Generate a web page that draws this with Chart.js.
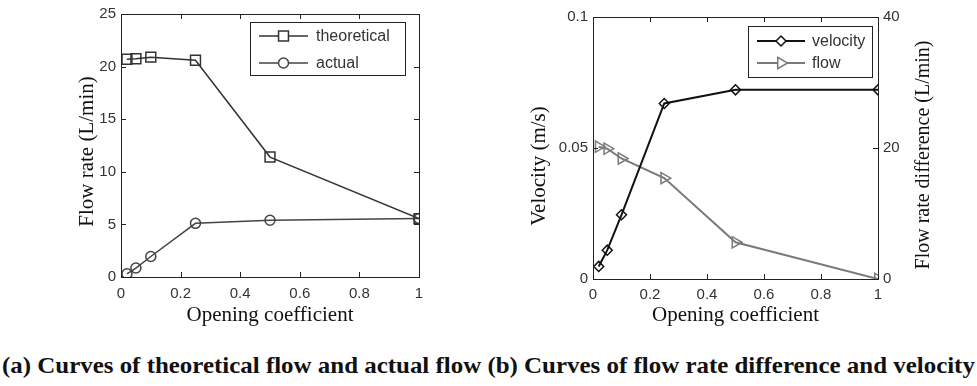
<!DOCTYPE html>
<html>
<head>
<meta charset="utf-8">
<script src="https://cdn.jsdelivr.net/npm/chart.js@4.4.1/dist/chart.umd.min.js"></script>
<style>
  body { margin: 0; background: #fff; width: 977px; height: 386px; overflow: hidden; position: relative; }
  .box { position: absolute; top: 0; }
  #caption {
    position: absolute; left: 2px; top: 353px; white-space: nowrap;
    font: bold 23px "Liberation Serif", "Times New Roman", serif; color: #111;
    transform-origin: 0 0;
  }
</style>
</head>
<body>
<div class="box" style="left:0;width:440px;height:332px"><canvas id="chartA"></canvas></div>
<div class="box" style="left:490px;width:487px;height:332px"><canvas id="chartB"></canvas></div>
<div id="caption">(a) Curves of theoretical flow and actual flow (b) Curves of flow rate difference and velocity</div>
<script>
// data
const openingCoeff = [0.02, 0.05, 0.1, 0.25, 0.5, 1];
const theoreticalFlow = [20.7, 20.75, 20.9, 20.6, 11.4, 5.55];
const actualFlow = [0.3, 0.85, 1.95, 5.1, 5.4, 5.55];
const velocity = [0.0048, 0.011, 0.0245, 0.067, 0.0722, 0.0722];
const flowDiff = [20.2, 19.9, 18.4, 15.4, 5.6, 0];

const xTicks = [0, 0.2, 0.4, 0.6, 0.8, 1];

const tickFont = { family: '"Liberation Sans", Arial, sans-serif', size: 15 };
const titleFont = { family: '"Liberation Serif", "Times New Roman", serif', size: 21 };
const fmt = v => String(+(+v).toFixed(3));

function pts(xs, ys) {
  return xs.map((x, i) => ({ x: x, y: ys[i] }));
}

// MATLAB style box with inward ticks
const framePlugin = {
  id: 'frame',
  afterDatasetsDraw(chart) {
    const { ctx, chartArea: a, scales } = chart;
    const len = 5;
    ctx.save();
    ctx.strokeStyle = '#222';
    ctx.lineWidth = 1;
    ctx.strokeRect(Math.round(a.left) + 0.5, Math.round(a.top) + 0.5, Math.round(a.width), Math.round(a.height));
    ctx.beginPath();
    scales.x.ticks.forEach(t => {
      const px = Math.round(scales.x.getPixelForValue(t.value)) + 0.5;
      ctx.moveTo(px, a.bottom); ctx.lineTo(px, a.bottom - len);
      ctx.moveTo(px, a.top); ctx.lineTo(px, a.top + len);
    });
    scales.y.ticks.forEach(t => {
      const py = Math.round(scales.y.getPixelForValue(t.value)) + 0.5;
      ctx.moveTo(a.left, py); ctx.lineTo(a.left + len, py);
      if (!scales.y1) { ctx.moveTo(a.right, py); ctx.lineTo(a.right - len, py); }
    });
    if (scales.y1) {
      scales.y1.ticks.forEach(t => {
        const py = Math.round(scales.y1.getPixelForValue(t.value)) + 0.5;
        ctx.moveTo(a.right, py); ctx.lineTo(a.right - len, py);
      });
    }
    ctx.stroke();
    ctx.restore();
  }
};

// vertical axis titles, all reading bottom-to-top like MATLAB
const yTitles = {
  id: 'yTitles',
  afterDraw(chart, args, o) {
    const { ctx, chartArea: a } = chart;
    ctx.save();
    ctx.fillStyle = '#111';
    ctx.textAlign = 'center';
    ctx.textBaseline = 'middle';
    (o.items || []).forEach(it => {
      const s = chart.scales[it.axis];
      const half = it.size * 1.2 / 2 + 4;
      const x = s.position === 'left' ? s.left + half : s.right - half;
      const y = (a.top + a.bottom) / 2 + it.dy;
      ctx.font = it.size + 'px "Liberation Serif", "Times New Roman", serif';
      ctx.save();
      ctx.translate(x, y);
      ctx.rotate(-Math.PI / 2);
      ctx.fillText(it.text, 0, 0);
      ctx.restore();
    });
    ctx.restore();
  }
};

// boxed legend inside the plot, line + marker + label
const boxLegend = {
  id: 'boxLegend',
  afterDraw(chart, args, o) {
    const { ctx, chartArea: a } = chart;
    const x = a.right - o.right - o.width;
    const y = a.top + o.top;
    ctx.save();
    ctx.fillStyle = '#fff';
    ctx.fillRect(x, y, o.width, o.height);
    ctx.strokeStyle = '#222';
    ctx.lineWidth = 1;
    ctx.strokeRect(Math.round(x) + 0.5, Math.round(y) + 0.5, o.width, o.height);
    chart.data.datasets.forEach((ds, i) => {
      const cy = y + o.rows[i];
      ctx.strokeStyle = ds.borderColor;
      ctx.lineWidth = ds.borderWidth;
      ctx.beginPath();
      ctx.moveTo(x + o.lineFrom, cy);
      ctx.lineTo(x + o.lineTo, cy);
      ctx.stroke();
      ctx.fillStyle = '#fff';
      ctx.strokeStyle = ds.pointBorderColor;
      ctx.lineWidth = ds.pointBorderWidth;
      Chart.helpers.drawPoint(ctx, {
        pointStyle: ds.pointStyle, rotation: ds.pointRotation || 0,
        radius: ds.pointRadius, borderWidth: ds.pointBorderWidth
      }, x + (o.lineFrom + o.lineTo) / 2, cy);
      ctx.fillStyle = '#333';
      ctx.font = '16px "Liberation Sans", Arial, sans-serif';
      ctx.textBaseline = 'middle';
      ctx.fillText(ds.label, x + o.textX, cy + 1);
    });
    ctx.restore();
  }
};

function xScale(pad, h) {
  return {
    type: 'linear', min: 0, max: 1,
    afterBuildTicks: s => { s.ticks = xTicks.map(v => ({ value: v })); },
    grid: { display: false, drawTicks: false }, border: { display: false },
    ticks: { font: tickFont, color: '#333', padding: pad, maxRotation: 0, callback: fmt },
    title: { display: true, text: 'Opening coefficient', font: titleFont, color: '#111' },
    afterFit: s => { s.height = h; }
  };
}

function yScale(pos, min, max, step, w) {
  return {
    type: 'linear', position: pos, min: min, max: max,
    grid: { display: false, drawTicks: false }, border: { display: false },
    ticks: { stepSize: step, font: tickFont, color: '#333', padding: 5, callback: fmt },
    afterFit: s => { s.width = w; }
  };
}

function series(label, data, color, width, style, r, axis, rot) {
  return {
    label: label, data: data, yAxisID: axis || 'y',
    borderColor: color, borderWidth: width,
    pointStyle: style, pointRadius: r, pointRotation: rot || 0,
    pointBackgroundColor: 'rgba(255,255,255,0)', pointBorderColor: color, pointBorderWidth: 1.5,
    pointHoverRadius: r, tension: 0, fill: false
  };
}

new Chart(document.getElementById('chartA'), {
  type: 'line',
  data: {
    datasets: [
      series('theoretical', pts(openingCoeff, theoreticalFlow), '#333', 1.5, 'rect', 7),
      series('actual', pts(openingCoeff, actualFlow), '#444', 1.5, 'circle', 5)
    ]
  },
  options: {
    responsive: true, maintainAspectRatio: false, animation: false,
    layout: { padding: { left: 71, top: 12, right: 21, bottom: 0 } },
    scales: {
      x: xScale(8, 55),
      y: yScale('left', 0, 25, 5, 50)
    },
    plugins: {
      legend: { display: false }, tooltip: { enabled: false },
      yTitles: { items: [{ axis: 'y', text: 'Flow rate (L/min)', size: 21, dy: 6 }] },
      boxLegend: { right: 14, top: 8, width: 155, height: 53, rows: [14, 41], lineFrom: 9, lineTo: 58, textX: 66 }
    }
  },
  plugins: [framePlugin, yTitles, boxLegend]
});

new Chart(document.getElementById('chartB'), {
  type: 'line',
  data: {
    datasets: [
      series('velocity', pts(openingCoeff, velocity), '#111', 2, 'rectRot', 5, 'y'),
      series('flow', pts(openingCoeff, flowDiff), '#7a7a7a', 2, 'triangle', 6.5, 'y1', 90)
    ]
  },
  options: {
    responsive: true, maintainAspectRatio: false, animation: false,
    layout: { padding: { left: 33, top: 17, right: 37, bottom: 0 } },
    scales: {
      x: xScale(7, 53),
      y: yScale('left', 0, 0.1, 0.05, 70),
      y1: yScale('right', 0, 40, 20, 62)
    },
    plugins: {
      legend: { display: false }, tooltip: { enabled: false },
      yTitles: { items: [
        { axis: 'y', text: 'Velocity (m/s)', size: 21, dy: 18 },
        { axis: 'y1', text: 'Flow rate difference (L/min)', size: 20, dy: 7 }
      ] },
      boxLegend: { right: 6, top: 9, width: 124, height: 51, rows: [15, 37], lineFrom: 9, lineTo: 57, textX: 64 }
    }
  },
  plugins: [framePlugin, yTitles, boxLegend]
});

// stretch the caption across the page like the original figure
const cap = document.getElementById('caption');
cap.style.transform = 'scaleX(' + (973 / cap.offsetWidth) + ')';
</script>
</body>
</html>
